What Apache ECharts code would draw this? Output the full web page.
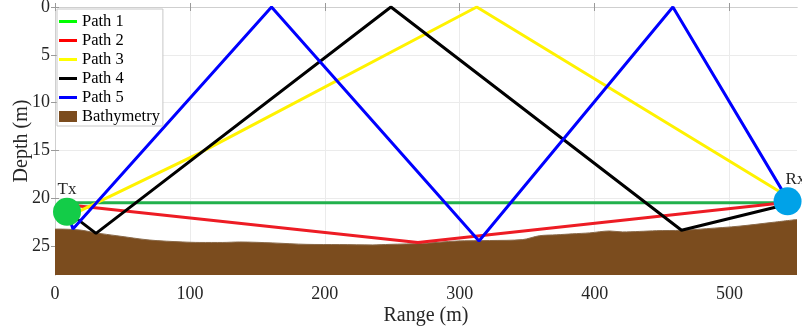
<!DOCTYPE html>
<html>
<head>
<meta charset="utf-8">
<script src="https://cdn.jsdelivr.net/npm/echarts@6/dist/echarts.min.js"></script>
<style>
  html, body { margin: 0; padding: 0; background: #fff; }
  #chart { width: 802px; height: 330px; }
</style>
</head>
<body>
<div id="chart"></div>
<script>
// Seabed profile (range in m, depth in m)
const seabedRange = [0, 1.5, 18.5, 30.4, 45.9, 70.4, 94.8, 107.4, 124.4, 137, 161.5, 186.7, 211, 235.6, 248, 272.6, 297.8, 322, 346.7, 359, 371.9, 383.7, 396.3, 411, 420.7, 433, 446, 464.4, 483, 507, 532, 550];
const seabedDepth = [23.2, 23.2, 23.3, 23.6, 23.9, 24.35, 24.55, 24.6, 24.6, 24.55, 24.65, 24.8, 24.82, 24.86, 24.8, 24.7, 24.45, 24.4, 24.3, 23.9, 23.8, 23.7, 23.6, 23.4, 23.5, 23.45, 23.37, 23.33, 23.16, 22.9, 22.5, 22.2];

// Ray paths: [range, depth] vertices
const path1 = [[9, 20.45], [543, 20.45]];
const path2 = [[9, 20.65], [269, 24.6], [540, 20.45]];
const path3 = [[9, 21.4], [18.5, 21.3], [107.4, 15.24], [312.6, 0], [543, 19.8]];
const path4 = [[9, 21.35], [30.4, 23.65], [249, 0], [464.4, 23.33], [543, 20.6]];
const path5 = [[9, 21.35], [13.3, 23.2], [160.5, 0], [314.3, 24.45], [458, 0], [543, 20.1]];

// Transmitter / receiver positions
const txPos = [8.9, 21.4];
const rxPos = [543, 20.3];

// Axis tick values
const rangeTicks = [0, 100, 200, 300, 400, 500];
const depthTicks = [0, 5, 10, 15, 20, 25];

const pathNames = ['Path 1', 'Path 2', 'Path 3', 'Path 4', 'Path 5'];
const pathLineColors = ['#22b14c', '#ed1c24', '#fff200', '#000000', '#0000ff'];
const pathKeyColors = ['#00ff00', '#ff0000', '#ffff00', '#000000', '#0000ff'];
const pathData = [path1, path2, path3, path4, path5];

const serif = '"Liberation Serif", "Times New Roman", serif';
const textColor = '#262626';

// Thin horizontal bar inside an 18x11 box, used as the line key in the legend
const lineKeyIcon = 'path://M0,0L0.01,0M0,4L18,4L18,7L0,7ZM0,11L0.01,11';

const chart = echarts.init(document.getElementById('chart'), null, { renderer: 'canvas' });

const series = [
  {
    name: 'Bathymetry',
    type: 'line',
    data: seabedRange.map((r, i) => [r, seabedDepth[i]]),
    smooth: 0.3,
    symbol: 'none',
    lineStyle: { width: 1, color: '#8a6a4a' },
    itemStyle: { color: '#7b4c1e' },
    areaStyle: { color: '#7b4c1e', opacity: 1, origin: 'end' },
    z: 2
  }
];

pathData.forEach((pts, i) => {
  series.push({
    name: pathNames[i],
    type: 'line',
    data: pts,
    symbol: 'none',
    lineStyle: { width: 3, color: pathLineColors[i] },
    itemStyle: { color: pathLineColors[i] },
    z: 3 + i
  });
});

series.push({
  name: 'Tx',
  type: 'scatter',
  data: [txPos],
  symbolSize: 28,
  itemStyle: { color: '#13cc48', opacity: 1 },
  clip: false,
  z: 10,
  label: {
    show: true,
    formatter: 'Tx',
    position: 'top',
    distance: 0,
    fontFamily: serif,
    fontSize: 17,
    color: textColor
  }
});

series.push({
  name: 'Rx',
  type: 'scatter',
  data: [rxPos],
  symbolSize: 28,
  itemStyle: { color: '#00a2e8', opacity: 1 },
  clip: false,
  z: 10,
  label: {
    show: true,
    formatter: 'Rx',
    position: [12, -8],
    align: 'left',
    verticalAlign: 'middle',
    fontFamily: serif,
    fontSize: 17,
    color: textColor
  }
});

const legendData = pathNames.map((n, i) => ({
  name: n,
  icon: lineKeyIcon,
  itemStyle: { color: pathKeyColors[i], borderWidth: 0 }
}));
legendData.push({ name: 'Bathymetry', icon: 'rect', itemStyle: { color: '#7b4c1e', borderWidth: 0 } });

const gridLine = { show: true, lineStyle: { color: '#ebebeb', width: 1 } };
const frameLine = { show: true, lineStyle: { color: '#cfcfcf', width: 1 } };
const innerTick = vals => ({ show: true, inside: true, length: 4, customValues: vals, lineStyle: { color: '#9a9a9a' } });

chart.setOption({
  animation: false,
  backgroundColor: '#ffffff',
  grid: { left: 55, right: 5, top: 7, bottom: 55, containLabel: false, outerBoundsMode: 'none' },
  legend: {
    data: legendData,
    orient: 'vertical',
    left: 57,
    top: 9,
    padding: [4, 3, 1, 2],
    itemGap: 2,
    itemWidth: 18,
    itemHeight: 11,
    backgroundColor: '#ffffff',
    borderColor: '#c8c8c8',
    borderWidth: 1,
    borderRadius: 0,
    textStyle: { fontFamily: serif, fontSize: 16.5, color: '#000', lineHeight: 16 },
    z: 20
  },
  xAxis: [
    {
      type: 'value',
      min: 0,
      max: 550,
      interval: 100,
      name: 'Range (m)',
      nameLocation: 'middle',
      nameGap: 31,
      nameMoveOverlap: false,
      nameTextStyle: { fontFamily: serif, fontSize: 20, color: textColor },
      axisLine: frameLine,
      axisTick: innerTick(rangeTicks),
      splitLine: gridLine,
      axisLabel: { fontFamily: serif, fontSize: 18, color: textColor, margin: 10, customValues: rangeTicks }
    },
    {
      type: 'value',
      position: 'top',
      min: 0,
      max: 550,
      interval: 100,
      axisLine: frameLine,
      axisTick: innerTick(rangeTicks),
      axisLabel: { show: false },
      splitLine: { show: false }
    }
  ],
  yAxis: [
    {
      type: 'value',
      inverse: true,
      min: 0,
      max: 28,
      interval: 5,
      name: 'Depth (m)',
      nameLocation: 'middle',
      nameGap: 23,
      nameMoveOverlap: false,
      nameTextStyle: { fontFamily: serif, fontSize: 20, color: textColor },
      axisLine: frameLine,
      axisTick: innerTick(depthTicks),
      splitLine: gridLine,
      axisLabel: { fontFamily: serif, fontSize: 18, color: textColor, margin: 5, customValues: depthTicks }
    },
    {
      type: 'value',
      position: 'right',
      inverse: true,
      min: 0,
      max: 28,
      interval: 5,
      axisLine: frameLine,
      axisTick: innerTick(depthTicks),
      axisLabel: { show: false },
      splitLine: { show: false }
    }
  ],
  series: series
});
</script>
</body>
</html>
